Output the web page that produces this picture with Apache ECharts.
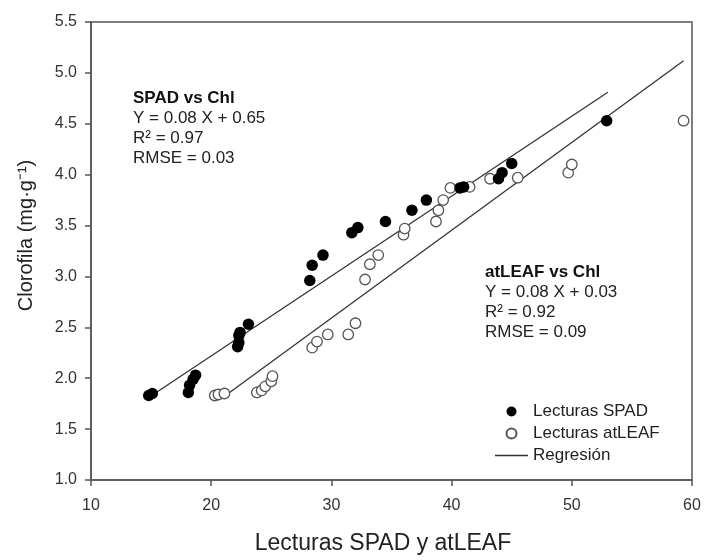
<!DOCTYPE html>
<html>
<head>
<meta charset="utf-8">
<script src="https://cdn.jsdelivr.net/npm/echarts@6/dist/echarts.min.js"></script>
<style>
  html, body { margin: 0; padding: 0; background: #fff; }
  #chart { width: 705px; height: 560px; }
</style>
</head>
<body>
<div id="chart"></div>
<script>
// lecturas SPAD (puntos negros)
var spadX = [14.8, 15.1, 18.1, 18.2, 18.5, 18.7, 22.2, 22.3, 22.3, 22.4, 23.1, 28.2, 28.4, 29.3, 31.7, 32.2, 34.5, 36.7, 37.9, 40.7, 41.0, 43.9, 44.2, 45.0, 52.9];
var spadY = [1.83, 1.85, 1.86, 1.93, 1.99, 2.03, 2.31, 2.35, 2.42, 2.45, 2.53, 2.96, 3.11, 3.21, 3.43, 3.48, 3.54, 3.65, 3.75, 3.87, 3.88, 3.96, 4.02, 4.11, 4.53];

// lecturas atLEAF (circulos vacios)
var leafX = [20.3, 20.6, 21.1, 23.8, 24.2, 24.5, 25.0, 25.1, 28.4, 28.8, 29.7, 31.4, 32.0, 32.8, 33.2, 33.9, 36.0, 36.1, 38.7, 38.9, 39.3, 39.9, 41.5, 43.2, 45.5, 49.7, 50.0, 59.3];
var leafY = [1.83, 1.84, 1.85, 1.86, 1.88, 1.92, 1.97, 2.02, 2.30, 2.36, 2.43, 2.43, 2.54, 2.97, 3.12, 3.21, 3.41, 3.47, 3.54, 3.65, 3.75, 3.87, 3.88, 3.96, 3.97, 4.02, 4.10, 4.53];

// rectas de regresion (extremos)
var regSpad = [[15.3, 1.85], [53.0, 4.81]];
var regLeaf = [[21.3, 1.84], [59.3, 5.12]];

var xTicks = [10, 20, 30, 40, 50, 60];
var yTicks = [1.0, 1.5, 2.0, 2.5, 3.0, 3.5, 4.0, 4.5, 5.0, 5.5];

function pairs(xs, ys) {
  var out = [];
  for (var i = 0; i < xs.length; i++) out.push([xs[i], ys[i]]);
  return out;
}

var myChart = echarts.init(document.getElementById('chart'));
var fontName = '"Liberation Sans", Arial, sans-serif';

var option = {
  animation: false,
  backgroundColor: '#fff',
  textStyle: { fontFamily: fontName },
  grid: {
    left: 91, right: 13, top: 22, bottom: 77,
    show: true, borderColor: '#555', borderWidth: 1.5
  },
  xAxis: {
    type: 'value',
    min: xTicks[0], max: xTicks[xTicks.length - 1], interval: 10,
    name: 'Lecturas SPAD y atLEAF',
    nameLocation: 'middle',
    nameGap: 52,
    nameTextStyle: { fontSize: 23, color: '#222', fontFamily: fontName, padding: [0, 17, 0, 0] },
    axisLine: { show: true, lineStyle: { color: '#555', width: 1.5 } },
    axisTick: { show: true, length: 6, lineStyle: { color: '#555', width: 1.5 } },
    axisLabel: { fontSize: 16, color: '#333', margin: 18, fontFamily: fontName },
    splitLine: { show: false }
  },
  yAxis: {
    type: 'value',
    min: yTicks[0], max: yTicks[yTicks.length - 1], interval: 0.5,
    name: 'Clorofila (mg·g⁻¹)',
    nameLocation: 'middle',
    nameGap: 55,
    nameTextStyle: { fontSize: 20, color: '#222', fontFamily: fontName, padding: [0, 0, 0, 31] },
    axisLine: { show: true, lineStyle: { color: '#555', width: 1.5 } },
    axisTick: { show: true, length: 6, lineStyle: { color: '#555', width: 1.5 } },
    axisLabel: {
      fontSize: 16, color: '#333', margin: 14, fontFamily: fontName,
      formatter: function (v) { return v.toFixed(1); }
    },
    splitLine: { show: false }
  },
  legend: {
    orient: 'vertical',
    left: 490,
    top: 397,
    itemWidth: 33,
    itemHeight: 10,
    itemGap: 3,
    textStyle: { fontSize: 17, color: '#222', fontFamily: fontName, lineHeight: 19 },
    data: [
      'Lecturas SPAD',
      'Lecturas atLEAF',
      { name: 'Regresión', icon: 'path://M0,0L33,0L33,1.3L0,1.3Z', itemStyle: { color: '#333' } }
    ]
  },
  graphic: [
    {
      type: 'text', left: 133, top: 88,
      style: {
        text: '{b|SPAD vs Chl}\nY = 0.08 X + 0.65\nR² = 0.97\nRMSE = 0.03',
        fontSize: 17, lineHeight: 20, fill: '#222', fontFamily: fontName,
        rich: { b: { fontWeight: 'bold', fontSize: 17, lineHeight: 20, fill: '#111' } }
      }
    },
    {
      type: 'text', left: 485, top: 262,
      style: {
        text: '{b|atLEAF vs Chl}\nY = 0.08 X + 0.03\nR² = 0.92\nRMSE = 0.09',
        fontSize: 17, lineHeight: 20, fill: '#222', fontFamily: fontName,
        rich: { b: { fontWeight: 'bold', fontSize: 17, lineHeight: 20, fill: '#111' } }
      }
    }
  ],
  series: [
    {
      name: 'Regresión', type: 'line', data: regSpad,
      symbol: 'none', showSymbol: false, z: 1,
      lineStyle: { color: '#333', width: 1.3 }, itemStyle: { color: '#333' }
    },
    {
      name: 'Regresión', type: 'line', data: regLeaf,
      symbol: 'none', showSymbol: false, z: 1,
      lineStyle: { color: '#333', width: 1.3 }, itemStyle: { color: '#333' }
    },
    {
      name: 'Lecturas atLEAF', type: 'scatter', data: pairs(leafX, leafY),
      symbol: 'circle', symbolSize: 10.5, z: 3,
      itemStyle: { color: '#fff', borderColor: '#555', borderWidth: 1.3, opacity: 1 }
    },
    {
      name: 'Lecturas SPAD', type: 'scatter', data: pairs(spadX, spadY),
      symbol: 'circle', symbolSize: 11.5, z: 4,
      itemStyle: { color: '#000', opacity: 1 }
    }
  ]
};

myChart.setOption(option);
</script>
</body>
</html>
